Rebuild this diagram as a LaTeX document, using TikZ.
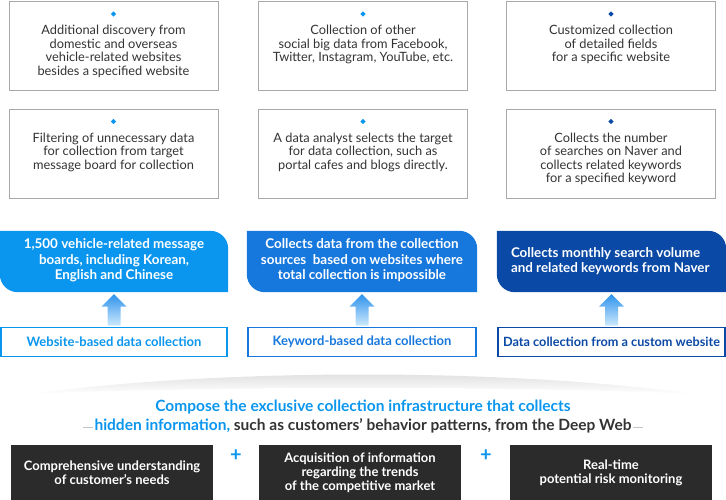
\documentclass[tikz,border=0pt]{standalone}
\usepackage{fontspec}
\setmainfont{Lato}
\usetikzlibrary{positioning,calc,shapes.geometric,backgrounds}

\definecolor{skyblue}{HTML}{0A96EE}
\definecolor{midblue}{HTML}{1677DD}
\definecolor{navyblue}{HTML}{0A49A5}
\definecolor{boxline}{HTML}{A9A9A9}
\definecolor{inktext}{HTML}{333333}
\definecolor{darkbox}{HTML}{2B2B2B}
\definecolor{arrowtop}{HTML}{2E93EC}
\definecolor{arrowbot}{HTML}{CDE9FC}
\definecolor{rulegray}{HTML}{C4C4C4}

% leaf-shaped fill behind a node: rounded top right and bottom left
\newcommand{\leaffill}[2]{%
  \fill[#2] (#1.north west) -- ($(#1.north east)+(-18,0)$)
    .. controls ($(#1.north east)+(-8,0)$) and ($(#1.north east)+(0,8)$) .. ($(#1.north east)+(0,18)$)
    -- (#1.south east) -- ($(#1.south west)+(18,0)$)
    .. controls ($(#1.south west)+(8,0)$) and ($(#1.south west)+(0,-8)$) .. ($(#1.south west)+(0,-18)$)
    -- cycle;}
% fat shaded arrow from the lower box up to the blue box
\newcommand{\liftarrow}[2]{%
  \shade[arrowfill] ($(#1.north)+(-6.5,-1)$) -- ($(#1.north)+(-6.5,-20)$)
    -- ($(#1.north)+(-12.5,-20)$) -- ($(#2.south)+(0,2)$) -- ($(#1.north)+(12.5,-20)$)
    -- ($(#1.north)+(6.5,-20)$) -- ($(#1.north)+(6.5,-1)$) -- cycle;}

\begin{document}
\begin{tikzpicture}[x=1pt,y=-1pt,
  infobox/.style={draw=boxline, line width=0.8pt, minimum width=209pt, minimum height=89pt, inner sep=0pt},
  dot/.style={diamond, fill=#1, minimum size=5.5pt, inner sep=0pt},
  infotext/.style={text=inktext, font=\fontsize{12.8}{13.6}\selectfont, align=center, inner sep=0pt},
  leaf/.style={minimum width=#1, minimum height=61pt, inner sep=0pt},
  leaftext/.style={text=white, font=\bfseries\fontsize{13.4}{15.5}\selectfont, align=center, inner sep=0pt},
  srcbox/.style={draw=#1, text=#1, line width=1.6pt, fill=white, minimum height=29pt, inner sep=0pt, font=\bfseries\fontsize{13}{15}\selectfont},
  headline/.style={font=\bfseries\fontsize{15.5}{18}\selectfont, inner sep=0pt},
  goalbox/.style={fill=darkbox, text=white, minimum width=202pt, minimum height=56pt, inner sep=0pt, align=center, font=\bfseries\fontsize{13}{14}\selectfont},
  plus/.style={text=skyblue, inner sep=0pt, font=\bfseries\fontsize{20}{20}\selectfont},
  arrowfill/.style={top color=arrowtop, bottom color=arrowbot}
]
\useasboundingbox (0,0) rectangle (726,500);

% top info boxes
\node[infobox] (disc) at (113.5,46) {};
\node[infobox] (social) at (363,46) {};
\node[infobox] (fields) at (611,46) {};
\node[infobox] (filter) at (113.5,153.5) {};
\node[infobox] (analyst) at (363,153.5) {};
\node[infobox] (naver) at (611,153.5) {};

\foreach \b/\c in {disc/skyblue,social/skyblue,fields/navyblue,filter/skyblue,analyst/skyblue,naver/navyblue}
  \node[dot=\c, below=10pt of \b.north] (\b dot) {};

\node[infotext, below=8pt of discdot] (disctext) {Additional discovery from\\domestic and overseas\\vehicle-related websites\\besides a specified website};
\node[infotext, below=8pt of socialdot] (socialtext) {Collection of other\\social big data from Facebook,\\Twitter, Instagram, YouTube, etc.};
\node[infotext, below=8pt of fieldsdot] (fieldstext) {Customized collection\\of detailed fields\\for a specific website};
\node[infotext, below=8pt of filterdot] (filtertext) {Filtering of unnecessary data\\for collection from target\\message board for collection};
\node[infotext, below=8pt of analystdot] (analysttext) {A data analyst selects the target\\for data collection, such as\\portal cafes and blogs directly.};
\node[infotext, below=8pt of naverdot] (navertext) {Collects the number\\of searches on Naver and\\collects related keywords\\for a specified keyword};

% blue leaf boxes
\node[leaf=228pt] (webtop) at (114,261.5) {};
\node[leaf=230pt] (keytop) at (362,261.5) {};
\node[leaf=229pt] (custtop) at (611.5,261.5) {};
\leaffill{webtop}{skyblue}
\leaffill{keytop}{midblue}
\leaffill{custtop}{navyblue}
\node[leaftext] (webtoptext) at ($(webtop)+(0,-1)$) {1,500 vehicle-related message\\boards, including Korean,\\English and Chinese};
\node[leaftext] (keytoptext) at ($(keytop)+(0,-1)$) {Collects data from the collection\\sources\ \ based on websites where\\total collection is impossible};
\node[leaftext, align=left, anchor=west] (custtoptext) at ($(custtop.west)+(14,-0.5)$) {Collects monthly search volume\\and related keywords from Naver};

% source boxes
\node[srcbox=skyblue, minimum width=226.5pt] (websrc) at (114,342) {\raisebox{-1pt}{Website-based data collection}};
\node[srcbox=midblue, minimum width=228.5pt] (keysrc) at (362,342) {\raisebox{-1pt}{Keyword-based data collection}};
\node[srcbox=navyblue, minimum width=227.5pt, font=\bfseries\fontsize{12.7}{15}\selectfont] (custsrc) at (611.5,342) {\raisebox{-1pt}{Data collection from a custom website}};

\liftarrow{websrc}{webtop}
\liftarrow{keysrc}{keytop}
\liftarrow{custsrc}{custtop}

% soft shadow
\shade[top color=black!15, bottom color=white]
  (30,394) .. controls (220,368) and (506,368) .. (696,394)
  .. controls (506,386) and (220,386) .. (30,394) -- cycle;

% heading
\node[headline, text=skyblue] (head1) at (363,407) {Compose the exclusive collection infrastructure that collects};
\node[headline, text=inktext, fill=white, inner xsep=1.5pt, below=4pt of head1] (head2) {\textcolor{skyblue}{hidden information,} such as customers’ behavior patterns, from the Deep Web};
\begin{scope}[on background layer]
  \draw[rulegray, line width=1.2pt] ($(head2.west)+(-10,2)$) -- ($(head2.east)+(10,2)$);
\end{scope}

% goals
\node[goalbox] (needs) at (112,472.5) {Comprehensive understanding\\of customer’s needs};
\node[goalbox] (trend) at (360,472.5) {Acquisition of information\\regarding the trends\\of the competitive market};
\node[goalbox] (risk) at (611,472.5) {Real-time\\potential risk monitoring};
\node[plus] (plusa) at (236,456) {+};
\node[plus] (plusb) at (486,456) {+};
\end{tikzpicture}
\end{document}
